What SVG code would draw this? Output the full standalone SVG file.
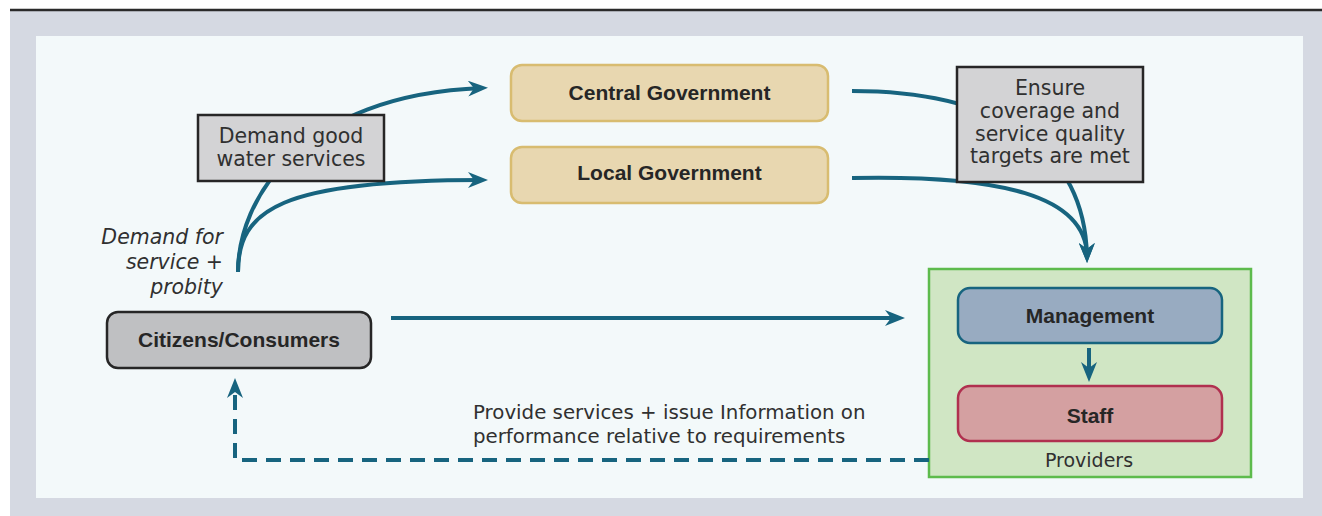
<svg xmlns="http://www.w3.org/2000/svg" width="1322" height="516" viewBox="0 0 1322 516">
<defs>
<marker id="ah" markerUnits="userSpaceOnUse" markerWidth="20" markerHeight="16" viewBox="0 0 20 16" refX="14" refY="8" orient="auto">
<path d="M0,0 L20,8 L0,16 L6,8 z" fill="#17647f"/>
</marker>
<style>
.conn{fill:none;stroke:#17647f;stroke-width:4;}
.dash{stroke-dasharray:15 9;}
.bold{font-family:"Liberation Sans",Arial,sans-serif;font-weight:bold;font-size:21px;fill:#262626;text-anchor:middle;}
.lbl{font-family:"DejaVu Sans","Liberation Sans",sans-serif;font-size:20.5px;fill:#303030;}
.sm{font-size:19px;}
.fb{font-size:19.8px;}
.c{text-anchor:middle;}
.gov{fill:#e8d7b0;stroke:#d8bc70;stroke-width:2.5;}
.note{fill:#d3d3d5;stroke:#262626;stroke-width:2.5;}
</style>
</defs>
<rect x="0" y="0" width="1322" height="516" fill="#ffffff"/>
<rect x="10" y="11" width="1312" height="505" fill="#d5d9e2"/>
<line x1="10" y1="10" x2="1322" y2="10" stroke="#2a2a2a" stroke-width="2.5"/>
<rect x="36" y="36" width="1267" height="462" fill="#f3f9fa"/>

<g id="providers">
<rect x="929" y="269" width="322" height="208" fill="#d0e6c4" stroke="#5dbb4c" stroke-width="2.5"/>
<text class="lbl c sm" x="1089" y="467">Providers</text>
</g>

<g id="connectors">
<path class="conn" d="M238,272 C238,200 300,95 482,88" marker-end="url(#ah)"/>
<path class="conn" d="M238,272 C238,210 280,180 482,180" marker-end="url(#ah)"/>
<path class="conn" d="M852,91 C1000,91 1085,150 1087,257" marker-end="url(#ah)"/>
<path class="conn" d="M852,178 C1000,175 1087,195 1087,257" marker-end="url(#ah)"/>
<path class="conn" d="M391,318 L899,318" marker-end="url(#ah)"/>
<path class="conn" d="M1089,348 L1089,376" marker-end="url(#ah)"/>
<path class="conn dash" d="M929,460 L235,460 L235,384" marker-end="url(#ah)"/>
</g>

<g id="central-government">
<rect class="gov" x="511" y="65" width="317" height="56" rx="11"/>
<text class="bold" x="669.5" y="100">Central Government</text>
</g>
<g id="local-government">
<rect class="gov" x="511" y="147" width="317" height="56" rx="11"/>
<text class="bold" x="669.5" y="180">Local Government</text>
</g>
<g id="demand-good">
<rect class="note" x="198" y="115" width="186" height="66"/>
<text class="lbl c" x="291" y="143">Demand good</text>
<text class="lbl c" x="291" y="166">water services</text>
</g>
<g id="ensure">
<rect class="note" x="957" y="67" width="186" height="115"/>
<text class="lbl c" x="1050" y="95">Ensure</text>
<text class="lbl c" x="1050" y="118">coverage and</text>
<text class="lbl c" x="1050" y="141">service quality</text>
<text class="lbl c" x="1050" y="163">targets are met</text>
</g>
<g id="demand-label">
<text class="lbl" x="223" y="244" text-anchor="end" font-style="italic">Demand for</text>
<text class="lbl" x="223" y="269" text-anchor="end" font-style="italic">service +</text>
<text class="lbl" x="223" y="294" text-anchor="end" font-style="italic">probity</text>
</g>
<g id="citizens">
<rect x="107" y="312" width="264" height="56" rx="11" fill="#bfc0c2" stroke="#262626" stroke-width="2.5"/>
<text class="bold" x="239" y="347">Citizens/Consumers</text>
</g>
<g id="management">
<rect x="958" y="288" width="264" height="55" rx="12" fill="#98abc1" stroke="#17647f" stroke-width="2.5"/>
<text class="bold" x="1090" y="323">Management</text>
</g>
<g id="staff">
<rect x="958" y="386" width="264" height="55" rx="12" fill="#d4a0a1" stroke="#b0304f" stroke-width="2.5"/>
<text class="bold" x="1090" y="423">Staff</text>
</g>
<g id="feedback-label">
<text class="lbl fb" x="473" y="419">Provide services + issue Information on</text>
<text class="lbl fb" x="473" y="443">performance relative to requirements</text>
</g>
</svg>
